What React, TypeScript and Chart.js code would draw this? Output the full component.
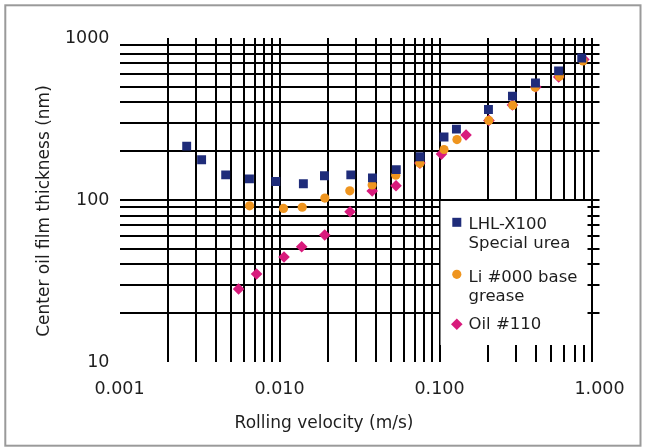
import React, { useEffect, useRef } from "react";
import { Chart, registerables } from "chart.js";

Chart.register(...registerables);

// ---------- data ----------
const LHL_VELOCITY = [0.00263, 0.00326, 0.00461, 0.00649, 0.00948, 0.0141, 0.0191, 0.0279, 0.0381, 0.0537, 0.0757, 0.1067, 0.1276, 0.2023, 0.2857, 0.398, 0.555, 0.7745];
const LHL_THICKNESS = [215, 177, 143, 135, 130, 126, 141, 143, 137, 154, 185, 245, 274, 362, 438, 527, 627, 753];

const LI_VELOCITY = [0.0065, 0.01059, 0.01387, 0.01921, 0.0275, 0.03796, 0.0533, 0.0754, 0.1067, 0.1286, 0.2033, 0.2868, 0.3963, 0.561, 0.789];
const LI_THICKNESS = [92, 88.7, 90.2, 102.8, 114, 123.8, 142.3, 168.5, 205, 236, 310, 384, 496, 580, 721];

const OIL_VELOCITY = [0.00555, 0.00719, 0.01067, 0.01376, 0.01917, 0.0276, 0.03796, 0.0535, 0.0754, 0.1029, 0.1465, 0.2037, 0.2857, 0.4, 0.556, 0.798];
const OIL_THICKNESS = [28.2, 34.9, 44.5, 51.5, 60.8, 84.7, 113.7, 122.4, 169, 192, 252, 310, 386, 498, 574, 736];

const SERIES_NAMES = [["LHL-X100", "Special urea"], ["Li #000 base", "grease"], ["Oil #110"]];
const SERIES_COLORS = ["#1f2c7a", "#ef951f", "#d81b7c"];

const X_DECADES = [0.001, 0.01, 0.1, 1];
const X_TICK_LABELS = ["0.001", "0.010", "0.100", "1.000"];
const Y_DECADES = [10, 100, 1000];
const Y_TICK_LABELS = ["10", "100", "1000"];

const X_TITLE = "Rolling velocity (m/s)";
const Y_TITLE = "Center oil film thickness (nm)";

const FONT = '"DejaVu Sans", sans-serif';
const TEXT_COLOR = "#1e1e1e";

// ---------- helpers ----------
function gridValues(decades: number[]): number[] {
  const out: number[] = [];
  for (let i = 0; i < decades.length - 1; i++) {
    for (let m = 1; m <= 9; m++) out.push(parseFloat((decades[i] * m).toPrecision(6)));
  }
  out.push(decades[decades.length - 1]);
  return out;
}

function labelFor(v: number, decades: number[], labels: string[]): string {
  for (let i = 0; i < decades.length; i++) {
    if (Math.abs(Math.log10(v) - Math.log10(decades[i])) < 1e-6) return labels[i];
  }
  return "";
}

function isEdge(v: number, decades: number[]): boolean {
  const lo = decades[0];
  const hi = decades[decades.length - 1];
  return Math.abs(Math.log10(v) - Math.log10(lo)) < 1e-6 || Math.abs(Math.log10(v) - Math.log10(hi)) < 1e-6;
}

function toPoints(xs: number[], ys: number[]) {
  return xs.map((x, i) => ({ x, y: ys[i] }));
}

function drawMarker(ctx: CanvasRenderingContext2D, style: string, cx: number, cy: number, color: string) {
  ctx.fillStyle = color;
  ctx.beginPath();
  if (style === "rect") {
    ctx.rect(cx - 4.5, cy - 4.5, 9, 9);
  } else if (style === "circle") {
    ctx.arc(cx, cy, 4.6, 0, Math.PI * 2);
  } else {
    ctx.moveTo(cx - 5.8, cy);
    ctx.lineTo(cx, cy - 5.8);
    ctx.lineTo(cx + 5.8, cy);
    ctx.lineTo(cx, cy + 5.8);
    ctx.closePath();
  }
  ctx.fill();
}

const MARKER_STYLES = ["rect", "circle", "rectRot"];

const boxLegendPlugin = {
  id: "boxLegend",
  beforeDatasetsDraw(chart: any) {
    const { ctx, scales } = chart;
    const left = scales.x.getPixelForValue(X_DECADES[2]) + 1;
    const top = scales.y.getPixelForValue(Y_DECADES[1]) + 1;
    ctx.save();
    ctx.fillStyle = "#ffffff";
    ctx.fillRect(left, top, 147, scales.y.getPixelForValue(Y_DECADES[0]) - 17 - top);
    ctx.restore();
  },
  afterDatasetsDraw(chart: any) {
    const { ctx, scales } = chart;
    const left = scales.x.getPixelForValue(X_DECADES[2]) + 1;
    const top = scales.y.getPixelForValue(Y_DECADES[1]) + 1;
    const markerY = [21.3, 73.3, 123.3];
    const baselines = [[28.3, 47.3], [80.7, 99.7], [128.3]];
    ctx.save();
    ctx.font = `16.5px ${FONT}`;
    ctx.textAlign = "left";
    ctx.textBaseline = "alphabetic";
    SERIES_NAMES.forEach((lines, i) => {
      drawMarker(ctx, MARKER_STYLES[i], left + 16.3, top + markerY[i], SERIES_COLORS[i]);
      ctx.fillStyle = TEXT_COLOR;
      lines.forEach((t, j) => ctx.fillText(t, left + 28, top + baselines[i][j]));
    });
    ctx.restore();
  },
};

const titlesPlugin = {
  id: "titlesAndFrame",
  afterDraw(chart: any) {
    const { ctx } = chart;
    ctx.save();
    ctx.fillStyle = TEXT_COLOR;
    ctx.font = `17px ${FONT}`;
    ctx.textAlign = "center";
    ctx.textBaseline = "alphabetic";
    ctx.fillText(X_TITLE, 324, 427.7);
    ctx.translate(48.5, 211);
    ctx.rotate(-Math.PI / 2);
    ctx.fillText(Y_TITLE, 0, 0);
    ctx.restore();

    ctx.save();
    ctx.strokeStyle = "#9a9a9a";
    ctx.lineWidth = 2;
    ctx.strokeRect(5.3, 5.3, 635.2, 440.4);
    ctx.restore();
  },
};

export default function App() {
  const canvasRef = useRef<HTMLCanvasElement | null>(null);

  useEffect(() => {
    document.body.style.margin = "0";
    const canvas = canvasRef.current;
    if (!canvas) return;
    const xGrid = gridValues(X_DECADES);
    const yGrid = gridValues(Y_DECADES);

    const chart = new Chart(canvas, {
      type: "scatter",
      data: {
        datasets: [
          {
            label: SERIES_NAMES[0].join(" "),
            data: toPoints(LHL_VELOCITY, LHL_THICKNESS),
            pointStyle: "rect",
            pointRadius: 6.3,
            pointHoverRadius: 6.3,
            backgroundColor: SERIES_COLORS[0],
            borderWidth: 0,
          },
          {
            label: SERIES_NAMES[1].join(" "),
            data: toPoints(LI_VELOCITY, LI_THICKNESS),
            pointStyle: "circle",
            pointRadius: 4.6,
            pointHoverRadius: 4.6,
            backgroundColor: SERIES_COLORS[1],
            borderWidth: 0,
          },
          {
            label: SERIES_NAMES[2].join(" "),
            data: toPoints(OIL_VELOCITY, OIL_THICKNESS),
            pointStyle: "rectRot",
            pointRadius: 5.8,
            pointHoverRadius: 5.8,
            backgroundColor: SERIES_COLORS[2],
            borderWidth: 0,
          },
        ],
      },
      options: {
        animation: false,
        responsive: false,
        devicePixelRatio: 1,
        events: [],
        layout: { padding: { top: 38, right: 46.5, left: 0, bottom: 0 } },
        plugins: {
          legend: { display: false },
          tooltip: { enabled: false },
        },
        scales: {
          x: {
            type: "logarithmic",
            min: X_DECADES[0],
            max: X_DECADES[X_DECADES.length - 1],
            afterBuildTicks: (scale: any) => {
              scale.ticks = xGrid.map((v) => ({ value: v }));
            },
            afterFit: (scale: any) => {
              scale.height = 85;
            },
            border: { display: false },
            grid: {
              drawTicks: false,
              lineWidth: 2,
              color: (c: any) => (c.tick && isEdge(c.tick.value, X_DECADES) ? "rgba(0,0,0,0)" : "#000000"),
            },
            ticks: {
              autoSkip: false,
              maxRotation: 0,
              padding: 17,
              color: TEXT_COLOR,
              font: { family: FONT, size: 17.5, lineHeight: 1.2 },
              callback: (v: any) => labelFor(Number(v), X_DECADES, X_TICK_LABELS),
            },
          },
          y: {
            type: "logarithmic",
            min: Y_DECADES[0],
            max: Y_DECADES[Y_DECADES.length - 1],
            afterBuildTicks: (scale: any) => {
              scale.ticks = yGrid.map((v) => ({ value: v }));
            },
            afterFit: (scale: any) => {
              scale.width = 119.5;
            },
            border: { display: false },
            grid: {
              drawTicks: false,
              lineWidth: 2,
              color: (c: any) => (c.tick && isEdge(c.tick.value, Y_DECADES) ? "rgba(0,0,0,0)" : "#000000"),
            },
            ticks: {
              autoSkip: false,
              padding: 10,
              color: TEXT_COLOR,
              font: { family: FONT, size: 17.5, lineHeight: 1.2 },
              callback: (v: any) => labelFor(Number(v), Y_DECADES, Y_TICK_LABELS),
            },
          },
        },
      },
      plugins: [boxLegendPlugin, titlesPlugin],
    } as any);

    return () => chart.destroy();
  }, []);

  return (
    <div style={{ width: 646, height: 447, position: "relative", background: "#fff" }}>
      <canvas ref={canvasRef} width={646} height={447} style={{ display: "block", width: 646, height: 447 }} />
    </div>
  );
}
